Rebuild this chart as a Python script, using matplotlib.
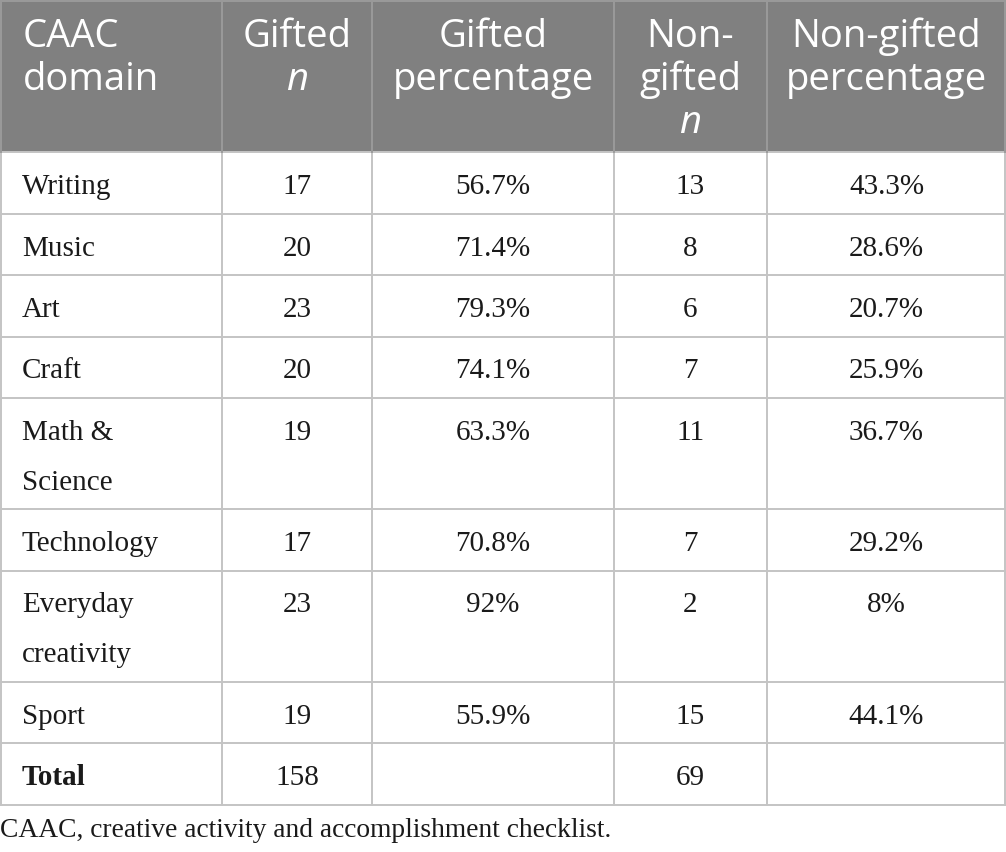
import matplotlib
matplotlib.use("Agg")
import matplotlib.pyplot as plt
from matplotlib.patches import Rectangle

# ---- data ----
domains = [["Writing"], ["Music"], ["Art"], ["Craft"], ["Math &", "Science"],
           ["Technology"], ["Everyday", "creativity"], ["Sport"]]
gifted_n = [17, 20, 23, 20, 19, 17, 23, 19]
gifted_pct = ["56.7%", "71.4%", "79.3%", "74.1%", "63.3%", "70.8%", "92%", "55.9%"]
nongifted_n = [13, 8, 6, 7, 11, 7, 2, 15]
nongifted_pct = ["43.3%", "28.6%", "20.7%", "25.9%", "36.7%", "29.2%", "8%", "44.1%"]
total_label = "Total"
total_gifted = 158
total_nongifted = 69
headers = [
    [("CAAC", "normal"), ("domain", "normal")],
    [("Gifted", "normal"), ("n", "italic")],
    [("Gifted", "normal"), ("percentage", "normal")],
    [("Non-", "normal"), ("gifted", "normal"), ("n", "italic")],
    [("Non-gifted", "normal"), ("percentage", "normal")],
]
footnote = "CAAC, creative activity and accomplishment checklist."

# ---- layout (pixels) ----
W, H = 1006, 852
col_edges = [0, 222, 372, 614, 767, 1006]
header_h = 152
row_heights = [61.5, 61.5, 61.5, 61.5, 111, 61.5, 111, 61.5, 61.5]
head_bg = "#808080"
grid_col = "#c4c4c4"
text_col = "#1a1a1a"
serif = ["Liberation Serif", "DejaVu Serif"]
sans = ["Open Sans", "DejaVu Sans"]
body_size = 21
head_size = 27.5

fig = plt.figure(figsize=(W / 100, H / 100), dpi=100)
ax = fig.add_axes([0, 0, 1, 1])
ax.set_xlim(0, W)
ax.set_ylim(H, 0)
ax.axis("off")

# header background
ax.add_patch(Rectangle((0, 0), W, header_h, facecolor=head_bg, edgecolor="none"))

# header text
for ci, lines in enumerate(headers):
    for li, (txt, style) in enumerate(lines):
        y = 47 + li * 43
        if ci == 0:
            ax.text(col_edges[0] + 23, y, txt, ha="left", va="baseline", color="white",
                    fontsize=head_size, family=sans, style=style)
        else:
            cx = (col_edges[ci] + col_edges[ci + 1]) / 2
            ax.text(cx, y, txt, ha="center", va="baseline", color="white",
                    fontsize=head_size, family=sans, style=style)

# body rows
rows = []
for i in range(len(domains)):
    rows.append((domains[i], str(gifted_n[i]), gifted_pct[i], str(nongifted_n[i]), nongifted_pct[i], "normal"))
rows.append(([total_label], str(total_gifted), "", str(total_nongifted), "", "bold"))

row_tops = [header_h]
for h in row_heights:
    row_tops.append(row_tops[-1] + h)

for ri, (dom, gn, gp, nn, npct, weight) in enumerate(rows):
    top = row_tops[ri]
    base = top + 42
    for li, line in enumerate(dom):
        ax.text(22, base + li * 50, line, ha="left", va="baseline", color=text_col,
                fontsize=body_size, family=serif, weight=weight)
    for ci, val in zip([1, 2, 3, 4], [gn, gp, nn, npct]):
        cx = (col_edges[ci] + col_edges[ci + 1]) / 2
        ax.text(cx, base, val, ha="center", va="baseline", color=text_col,
                fontsize=body_size, family=serif)

# grid lines
bottom = row_tops[-1]
for y in row_tops[1:]:
    ax.plot([0, W], [y, y], color=grid_col, lw=1.4, solid_capstyle="butt")
ax.plot([0, W], [header_h, header_h], color=grid_col, lw=1.4)
for x in col_edges:
    xx = min(max(x, 0.8), W - 0.8)
    ax.plot([xx, xx], [header_h, bottom], color=grid_col, lw=1.4)
    ax.plot([xx, xx], [0, header_h], color="#9a9a9a", lw=1.4)
ax.plot([0, W], [0.8, 0.8], color="#9a9a9a", lw=1.4)

# footnote
ax.text(0, 837, footnote, ha="left", va="baseline", color=text_col,
        fontsize=19.8, family=serif)

fig.savefig("out.png", dpi=100)
